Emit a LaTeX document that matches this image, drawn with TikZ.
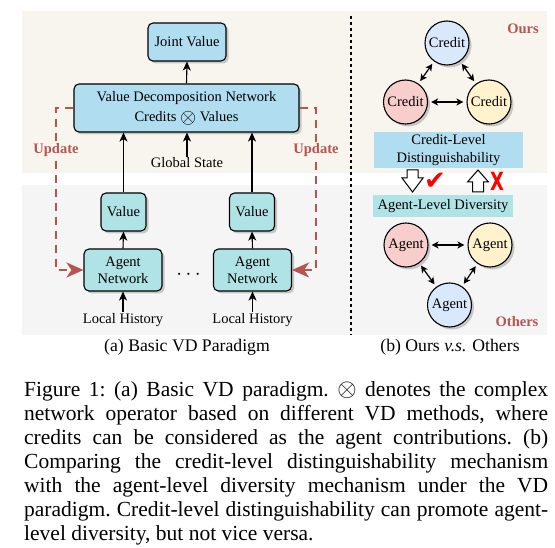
\documentclass[tikz,border=0pt]{standalone}
\usepackage{fontspec}
\setmainfont{Liberation Serif}
\newfontfamily\symfont{DejaVu Sans}
\usetikzlibrary{arrows.meta,shadows}
\definecolor{bgbeige}{HTML}{F8F5EE}
\definecolor{bggrey}{HTML}{F5F5F5}
\definecolor{nblue}{HTML}{B1DDF0}
\definecolor{nteal}{HTML}{B0E3E6}
\definecolor{cblue}{HTML}{DAE8FC}
\definecolor{cred}{HTML}{F8CECC}
\definecolor{cyellow}{HTML}{FFF2CC}
\definecolor{updred}{HTML}{B85450}
\newcommand\dgfont{\fontsize{14.5}{17}\selectfont}
\newcommand\capfont{\fontsize{21.5}{24}\selectfont\frenchspacing}
\newcommand\subcapfont{\fontsize{17.7}{20}\selectfont}
\begin{document}
\begin{tikzpicture}[x=1pt,y=-1pt,
  box/.style={draw=black, line width=1.1pt, rounded corners=5pt, align=center,
    font=\dgfont, inner sep=0pt,
    drop shadow={shadow xshift=2.5pt,shadow yshift=-2.5pt,fill=black!40}},
  circ/.style={circle, draw=black, line width=1.1pt, minimum size=44pt, inner sep=0pt,
    font=\dgfont,
    drop shadow={shadow xshift=2.5pt,shadow yshift=-2.5pt,fill=black!40}},
  flat/.style={inner sep=0pt, align=center, font=\dgfont},
  lbl/.style={font=\dgfont, inner sep=1pt},
  redlbl/.style={font=\dgfont\bfseries, text=updred, inner sep=1pt},
  arr/.style={-{Stealth[length=9pt,width=8pt,inset=2.5pt]}, line width=1.1pt},
  darr/.style={{Stealth[length=7pt,width=7pt,inset=2pt]}-{Stealth[length=7pt,width=7pt,inset=2pt]},
    line width=1.2pt, shorten <=3pt, shorten >=3pt},
  upd/.style={draw=updred, line width=2.4pt, dash pattern=on 8pt off 6pt,
    -{Stealth[length=17pt,width=15pt,inset=5pt]}},
  capline/.style={anchor=base west, inner sep=0pt, font=\capfont}
]
\useasboundingbox (0,0) rectangle (555,548);
% backgrounds
\fill[bgbeige] (22,11) rectangle (547,173);
\fill[bggrey] (22,185) rectangle (547,335);
\draw[line width=1.5pt, dash pattern=on 3pt off 3pt] (351,16) -- (351,335);

% ---- panel (a)
\node[box, fill=nblue, minimum width=78pt, minimum height=38pt] (jv) at (187,42) {Joint Value};
\node[box, fill=nblue, minimum width=225pt, minimum height=48pt] (vdn) at (186.5,108)
  {Value Decomposition Network\\[3pt]Credits \raisebox{-2pt}{\fontsize{21}{21}\selectfont$\otimes$} Values};
\node[lbl] (gs) at (187,163) {Global State};
\node[box, fill=nteal, minimum width=45pt, minimum height=38pt] (v1) at (123.5,212) {Value};
\node[box, fill=nteal, minimum width=45pt, minimum height=38pt] (v2) at (252,212) {Value};
\node[box, fill=nteal, minimum width=78pt, minimum height=42pt] (an1) at (123,270) {Agent\\Network};
\node[box, fill=nteal, minimum width=78pt, minimum height=42pt] (an2) at (252.5,270) {Agent\\Network};
\node[lbl, font=\fontsize{21}{21}\selectfont] (dots) at (188.5,275) {$\cdots$};
\node[lbl] (lh1) at (123,320) {Local History};
\node[lbl] (lh2) at (252.5,320) {Local History};

\draw[arr] (vdn.north) -- (jv.south);
\draw[arr] (gs.north) -- (gs.north |- vdn.south);
\draw[arr] (v1.north) -- (v1.north |- vdn.south);
\draw[arr] (v2.north) -- (v2.north |- vdn.south);
\draw[arr] (an1.north) -- (v1.south);
\draw[arr] (an2.north) -- (v2.south);
\draw[arr] (lh1.north) -- (an1.south);
\draw[arr] (lh2.north) -- (an2.south);

\coordinate (ul) at (56,108);
\coordinate (ur) at (316,108);
\draw[upd] (vdn.west) -- (ul) |- (an1.west);
\draw[upd] (vdn.east) -- (ur) |- (an2.east);
\node[redlbl, fill=bgbeige] (updl) at (56,150) {Update};
\node[redlbl, fill=bgbeige] (updr) at (316,150) {Update};

\node[font=\subcapfont, inner sep=0pt] (capa) at (187,347) {(a) Basic VD Paradigm};

% ---- panel (b)
\node[circ, fill=cblue] (c1) at (447,43) {Credit};
\node[circ, fill=cred] (c2) at (405.5,102) {Credit};
\node[circ, fill=cyellow] (c3) at (489,102) {Credit};
\draw[darr] (c1) -- (c2);
\draw[darr] (c1) -- (c3);
\draw[darr] (c2) -- (c3);
\node[redlbl] (ours) at (523,29) {Ours};
\node[flat, fill=nblue, minimum width=149pt, minimum height=36pt, font=\fontsize{14.5}{18}\selectfont] (cl) at (448.5,150)
  {Credit-Level\\Distinguishability};

\draw[fill=white, line width=1pt] (407,170) -- (418,170) -- (418,178) -- (423,178) -- (412.5,192)
  -- (402,178) -- (407,178) -- cycle;
\draw[fill=white, line width=1pt] (472.5,192) -- (483.5,192) -- (483.5,182) -- (488.5,182) -- (478,170)
  -- (467.5,182) -- (472.5,182) -- cycle;
\node[inner sep=0pt, text=red, font=\symfont\fontsize{26}{26}\selectfont] (chk) at (435,181) {✔};
\node[inner sep=0pt, text=red, font=\symfont\bfseries\fontsize{25}{25}\selectfont] (crs) at (497,181) {\scalebox{0.72}[1]{X}};

\node[flat, fill=nteal, minimum width=140pt, minimum height=22pt] (al) at (443,206) {Agent-Level Diversity};
\node[circ, fill=cred] (a1) at (406,245) {Agent};
\node[circ, fill=cyellow] (a2) at (490,245) {Agent};
\node[circ, fill=cblue] (a3) at (449.5,305) {Agent};
\draw[darr] (a1) -- (a2);
\draw[darr] (a1) -- (a3);
\draw[darr] (a2) -- (a3);
\node[redlbl] (others) at (517,322) {Others};
\node[font=\subcapfont, inner sep=0pt] (capb) at (450,347) {(b) Ours \textit{v.s.} Others};

% ---- caption
\node[capline] (l1) at (24,397) {\makebox[524pt][s]{Figure 1: (a) Basic VD paradigm. {\fontsize{24}{24}\selectfont$\otimes$} denotes the complex}};
\node[capline] (l2) at (24,420.9) {\makebox[524pt][s]{network operator based on different VD methods, where}};
\node[capline] (l3) at (24,444.8) {\makebox[524pt][s]{credits can be considered as the agent contributions. (b)}};
\node[capline] (l4) at (24,468.7) {\makebox[524pt][s]{Comparing the credit-level distinguishability mechanism}};
\node[capline] (l5) at (24,492.6) {\makebox[524pt][s]{with the agent-level diversity mechanism under the VD}};
\node[capline] (l6) at (24,516.5) {\makebox[524pt][s]{paradigm. Credit-level distinguishability can promote agent-}};
\node[capline] (l7) at (24,540.4) {level diversity, but not vice versa.};
\end{tikzpicture}
\end{document}
